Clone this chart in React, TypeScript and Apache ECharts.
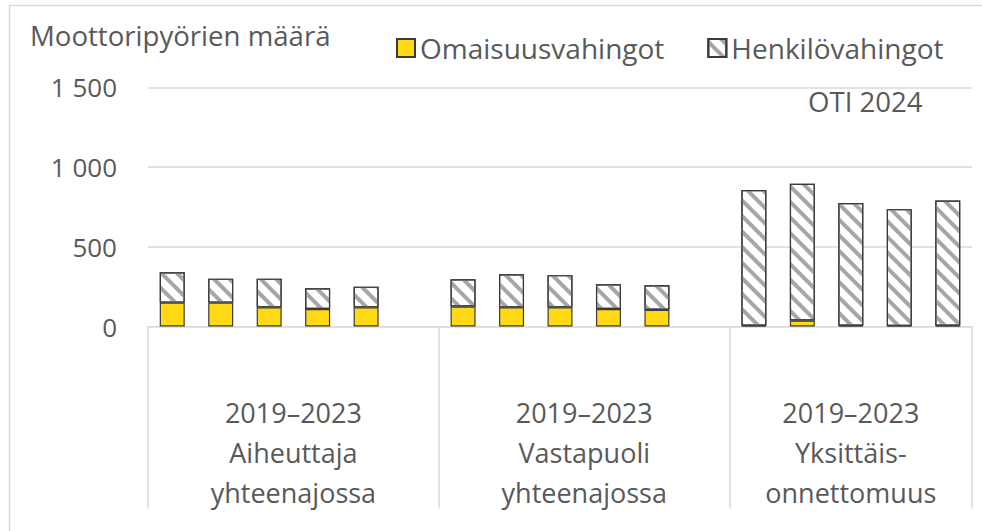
import React, { useEffect, useRef } from "react";
import * as echarts from "echarts";

const years = ["2019", "2020", "2021", "2022", "2023"];
const groupNames = [
  "2019–2023\nAiheuttaja\nyhteenajossa",
  "2019–2023\nVastapuoli\nyhteenajossa",
  "2019–2023\nYksittäis-\nonnettomuus",
];
// Omaisuusvahingot per group (years 2019–2023)
const omaisuus1 = [150, 150, 120, 110, 120];
const omaisuus2 = [125, 120, 120, 110, 105];
const omaisuus3 = [5, 38, 5, 3, 5];
// Henkilövahingot per group
const henkilo1 = [190, 150, 180, 130, 130];
const henkilo2 = [171, 208, 202, 155, 154];
const henkilo3 = [851, 857, 769, 733, 785];

const yTicks = [0, 500, 1000, 1500];

const FONT = "'Open Sans', 'Noto Sans', sans-serif";
const TEXT = "#595959";
const GRID = "#d9d9d9";

export default function App() {
  const ref = useRef<HTMLDivElement>(null);
  useEffect(() => {
    if (!ref.current) return;
    const chart = echarts.init(ref.current, undefined, { renderer: "svg" });

    const groupsOm = [omaisuus1, omaisuus2, omaisuus3];
    const groupsHe = [henkilo1, henkilo2, henkilo3];
    const cats: string[] = [];
    const om: (number | string)[] = [];
    const he: (number | string)[] = [];
    const boundaries: number[] = [0];
    const centers: number[] = [];
    groupsOm.forEach((g, gi) => {
      const start = cats.length;
      years.forEach((y, yi) => {
        cats.push(`${gi}-${y}`);
        om.push(g[yi]);
        he.push(groupsHe[gi][yi]);
      });
      if (gi < groupsOm.length - 1) {
        cats.push(`${gi}-gap`);
        om.push("-");
        he.push("-");
      }
      boundaries.push(cats.length);
      centers.push((start + cats.length) / 2);
    });
    const total = cats.length;

    const hatch = {
      symbol: "rect",
      symbolSize: 1,
      color: "#a6a6a6",
      dashArrayX: [1, 0],
      dashArrayY: [3.5, 6.5],
      rotation: Math.PI / 4,
    };

    chart.setOption({
      animation: false,
      textStyle: { fontFamily: FONT },
      grid: { left: 148, right: 10, top: 87.3, bottom: 204.5, containLabel: false },
      legend: {
        left: 391,
        top: 29,
        itemWidth: 18,
        itemHeight: 18,
        itemGap: 43,
        icon: "rect",
        textStyle: { color: TEXT, fontSize: 28, fontFamily: FONT },
        data: ["Omaisuusvahingot", "Henkilövahingot"],
      },
      xAxis: [
        {
          type: "category",
          data: cats,
          axisLine: { show: true, lineStyle: { color: GRID, width: 1 } },
          axisTick: { show: false },
          axisLabel: { show: false },
        },
        {
          type: "value",
          min: 0,
          max: total,
          position: "bottom",
          axisLine: { show: false },
          splitLine: { show: false },
          axisTick: {
            show: true,
            customValues: boundaries,
            length: 182,
            lineStyle: { color: GRID, width: 1.5 },
          },
          axisLabel: {
            show: true,
            customValues: centers,
            formatter: (v: number) => {
              const i = centers.findIndex((c) => Math.abs(c - v) < 1e-6);
              return i >= 0 ? groupNames[i] : "";
            },
            margin: 66,
            color: TEXT,
            fontSize: 27,
            lineHeight: 40,
            fontFamily: FONT,
            verticalAlign: "top",
            align: "center",
          },
        },
      ],
      yAxis: {
        type: "value",
        min: 0,
        max: 1500,
        interval: 500,
        axisLine: { show: false },
        axisTick: { show: false },
        splitLine: { lineStyle: { color: GRID, width: 1.5 } },
        axisLabel: {
          margin: 31,
          color: TEXT,
          fontSize: 26,
          fontFamily: FONT,
          formatter: (v: number) =>
            yTicks.includes(v) ? String(v).replace(/\B(?=(\d{3})+(?!\d))/g, " ") : "",
        },
      },
      series: [
        {
          name: "Omaisuusvahingot",
          type: "bar",
          stack: "s",
          barWidth: 25,
          data: om,
          itemStyle: { color: "#ffda14", borderColor: "#3a3a3a", borderWidth: 1.2 },
        },
        {
          name: "Henkilövahingot",
          type: "bar",
          stack: "s",
          barWidth: 25,
          data: he,
          itemStyle: { color: "#ffffff", borderColor: "#3a3a3a", borderWidth: 1.2, decal: hatch },
        },
      ],
      graphic: [
        {
          type: "rect",
          shape: { x: 9.5, y: 5.5, width: 1100, height: 700 },
          style: { fill: "none", stroke: GRID, lineWidth: 1.5 },
          silent: true,
        },
        {
          type: "text",
          left: 30,
          top: 21,
          style: { text: "Moottoripyörien määrä", fill: TEXT, fontSize: 27.6, fontFamily: FONT },
        },
        {
          type: "text",
          left: 808,
          top: 87,
          style: { text: "OTI 2024", fill: TEXT, fontSize: 27.6, fontFamily: FONT },
        },
      ],
    });
    return () => chart.dispose();
  }, []);
  return (
    <div
      ref={ref}
      style={{ position: "fixed", left: 0, top: 0, width: 982, height: 531, background: "#fff" }}
    />
  );
}
